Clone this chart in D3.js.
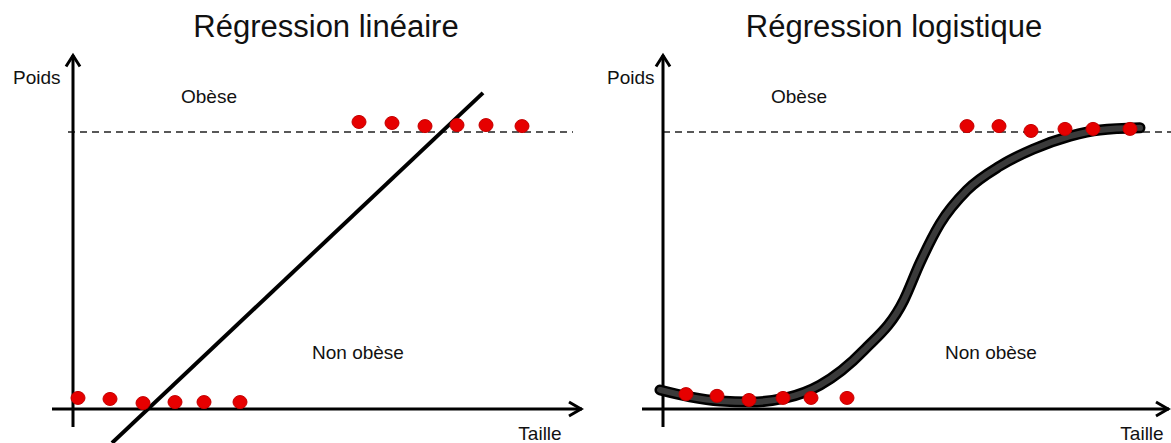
<!DOCTYPE html>
<html>
<head>
<meta charset="utf-8">
<script src="https://cdn.jsdelivr.net/npm/d3@7"></script>
<style>
  html, body { margin: 0; padding: 0; background: #fff; }
  svg { display: block; }
  text { font-family: "Liberation Sans", Arial, sans-serif; fill: #111; }
</style>
</head>
<body>
<svg id="chart" width="1171" height="443"></svg>
<script>
// ---- Data (x = Taille, y = Poids, arbitrary units 0..10) ----
const titles = ["Régression linéaire", "Régression logistique"];
const axisLabels = { y: "Poids", x: "Taille" };
const classLabels = { above: "Obèse", below: "Non obèse" };
const threshold = 8;

// Linear regression panel points
const linObeseX = [5.72, 6.38, 7.04, 7.68, 8.26, 8.98];
const linObeseY = [8.29, 8.26, 8.17, 8.20, 8.20, 8.17];
const linNonX   = [0.10, 0.74, 1.40, 2.04, 2.62, 3.34];
const linNonY   = [0.32, 0.29, 0.17, 0.20, 0.20, 0.20];
const linFitX   = [0.78, 8.20];
const linFitY   = [-0.98, 9.13];

// Logistic regression panel points
const logObeseX = [6.08, 6.72, 7.36, 8.04, 8.60, 9.34];
const logObeseY = [8.17, 8.17, 8.03, 8.09, 8.09, 8.09];
const logNonX   = [0.46, 1.08, 1.72, 2.40, 2.96, 3.68];
const logNonY   = [0.43, 0.38, 0.26, 0.32, 0.32, 0.32];
const logFitX   = [-0.06, 0.54, 1.14, 1.74, 2.46, 3.14, 4.02, 4.82, 5.14, 5.54, 6.08, 6.74, 7.40, 8.14, 8.74, 9.54];
const logFitY   = [0.55, 0.35, 0.23, 0.20, 0.32, 0.69, 1.70, 3.15, 4.22, 5.35, 6.32, 7.02, 7.50, 7.88, 8.06, 8.12];

// ---- Layout ----
const svg = d3.select("#chart");
const panels = [
  { title: titles[0], x0: 73, titleX: 326, xAxisStart: -0.42, xAxisEnd: 10.18, dashStart: -0.1, dashEnd: 10.0,
    poidsX: 13, obeseX: 181, nonX: 312, tailleX: 540,
    obese: { x: linObeseX, y: linObeseY }, non: { x: linNonX, y: linNonY },
    fit: { x: linFitX, y: linFitY }, kind: "linear" },
  { title: titles[1], x0: 663, titleX: 894, xAxisStart: -0.42, xAxisEnd: 10.12, dashStart: 0.0, dashEnd: 10.2,
    poidsX: 607, obeseX: 771, nonX: 945, tailleX: 1142,
    obese: { x: logObeseX, y: logObeseY }, non: { x: logNonX, y: logNonY },
    fit: { x: logFitX, y: logFitY }, kind: "logistic" }
];

const y = d3.scaleLinear().domain([0, 10]).range([409, 409 - 34.625 * 10]);

panels.forEach(p => {
  const x = d3.scaleLinear().domain([0, 10]).range([p.x0, p.x0 + 500]);
  const g = svg.append("g");

  // title
  g.append("text").attr("x", p.titleX).attr("y", 37).attr("text-anchor", "middle")
    .style("font-size", "31px").text(p.title);

  // dashed threshold
  g.append("line")
    .attr("x1", x(p.dashStart)).attr("x2", x(p.dashEnd))
    .attr("y1", y(threshold)).attr("y2", y(threshold))
    .attr("stroke", "#222").attr("stroke-width", 1.6).attr("stroke-dasharray", "7,5");

  // axes
  const ax = g.append("g").attr("stroke", "#000").attr("stroke-width", 3).attr("fill", "none")
    .attr("stroke-linecap", "butt");
  ax.append("line").attr("x1", x(0)).attr("x2", x(0)).attr("y1", y(-0.52)).attr("y2", y(10.22));
  ax.append("line").attr("x1", x(p.xAxisStart)).attr("x2", x(p.xAxisEnd)).attr("y1", y(0)).attr("y2", y(0));
  // arrowheads
  const tipY = y(10.24), tipX = x(p.xAxisEnd);
  ax.append("path").attr("stroke-linejoin", "miter")
    .attr("d", `M${x(0) - 7},${tipY + 12} L${x(0)},${tipY + 1} L${x(0) + 7},${tipY + 12}`);
  ax.append("path").attr("stroke-linejoin", "miter")
    .attr("d", `M${tipX - 13},${y(0) - 7} L${tipX - 1},${y(0)} L${tipX - 13},${y(0) + 7}`);

  // fit
  const pts = p.fit.x.map((v, i) => [v, p.fit.y[i]]);
  if (p.kind === "linear") {
    g.append("path").datum(pts)
      .attr("d", d3.line().x(d => x(d[0])).y(d => y(d[1])))
      .attr("stroke", "#000").attr("stroke-width", 4).attr("fill", "none");
  } else {
    const ln = d3.line().x(d => x(d[0])).y(d => y(d[1])).curve(d3.curveMonotoneX);
    g.append("path").datum(pts).attr("d", ln)
      .attr("stroke", "#000").attr("stroke-width", 11).attr("fill", "none").attr("stroke-linecap", "round");
    g.append("path").datum(pts).attr("d", ln)
      .attr("stroke", "#3a3a3a").attr("stroke-width", 6).attr("fill", "none").attr("stroke-linecap", "round");
  }

  // points
  [p.obese, p.non].forEach(set => {
    g.append("g").selectAll("ellipse").data(set.x.map((v, i) => [v, set.y[i]])).join("ellipse")
      .attr("cx", d => x(d[0])).attr("cy", d => y(d[1]))
      .attr("rx", 7).attr("ry", 6.5)
      .attr("fill", "#e60000").attr("stroke", "#c40000").attr("stroke-width", 1);
  });

  // labels
  g.append("text").attr("x", p.poidsX).attr("y", 84).style("font-size", "19px").text(axisLabels.y);
  g.append("text").attr("x", p.obeseX).attr("y", 103).style("font-size", "19px").text(classLabels.above);
  g.append("text").attr("x", p.nonX).attr("y", 359).style("font-size", "19px").text(classLabels.below);
  g.append("text").attr("x", p.tailleX).attr("y", 440).attr("text-anchor", "middle")
    .style("font-size", "19px").text(axisLabels.x);
});
</script>
</body>
</html>
